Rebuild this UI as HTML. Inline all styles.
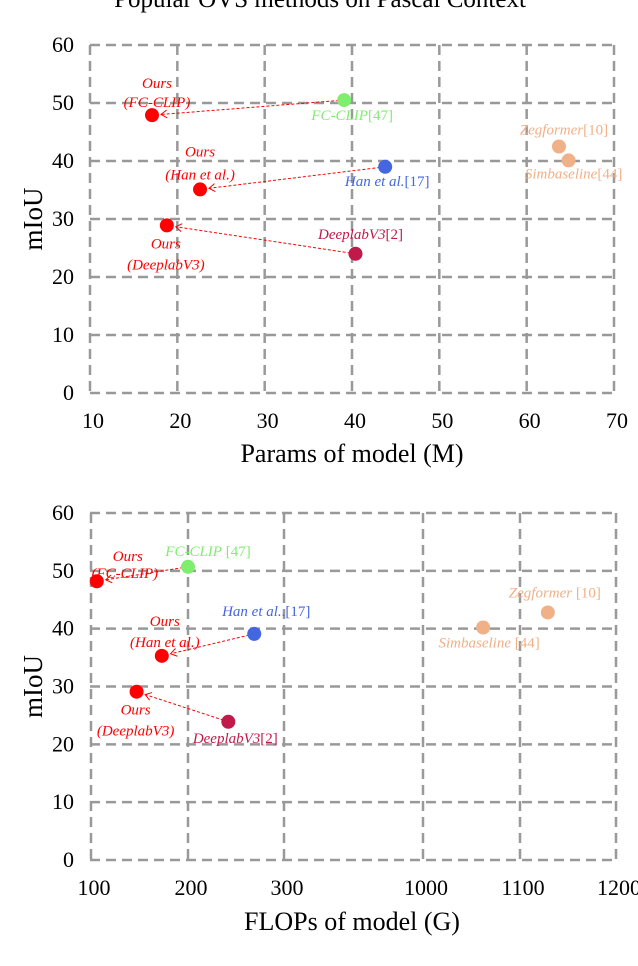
<!DOCTYPE html>
<html><head><meta charset="utf-8"><style>
html,body{margin:0;padding:0;background:#fff;width:638px;height:966px;overflow:hidden}
svg{display:block;font-family:"Liberation Serif",serif}
</style></head><body>
<svg id="svg" width="638" height="966" viewBox="0 0 638 966">
<text x="320" y="7" font-size="25" text-anchor="middle">Popular OVS methods on Pascal Context</text>
<g id="g1"></g>
<g id="g2"></g>
</svg>
<script>
const methods = ["Ours (FC-CLIP)","FC-CLIP","Ours (Han et al.)","Han et al.","Ours (DeeplabV3)","DeeplabV3","Zegformer","Simbaseline"];
const paramsM = [17.1,39.1,22.6,43.8,18.8,40.4,63.7,64.8];
const miouTop = [47.9,50.5,35.1,39.0,28.9,24.0,42.5,40.1];
const flopsG = [106,200,173,269,147,242,1129,1062];
const miouBottom = [48.2,50.7,35.3,39.1,29.1,23.9,42.8,40.2];
const yTicks = [0,10,20,30,40,50,60];
const xTicksTop = [10,20,30,40,50,60,70];
const xTicksBottom = [100,200,300,1000,1100,1200];
const colors = ["#ff0000","#7fee6f","#ff0000","#4466e0","#ff0000","#c0194a","#f0b088","#f0b088"];
const NS="http://www.w3.org/2000/svg";
function mk(p,tag,attrs){const e=document.createElementNS(NS,tag);for(const k in attrs)e.setAttribute(k,attrs[k]);p.appendChild(e);return e;}

function drawChart(g, xs, ys, xTicks, xScale, y0, y60, labelSet, xTitle, titleY){
  const L=90,R=614;
  const yScale=v=>y0-(v/60)*(y0-y60);
  yTicks.forEach(t=>{
    const l=mk(g,'line',{x1:L,x2:R,y1:yScale(t),y2:yScale(t),stroke:'#999','stroke-width':2.5,'stroke-dasharray':'10,6'});
     
    const tx=mk(g,'text',{x:74,y:yScale(t)+7,'font-size':22,'text-anchor':'end'});
    tx.textContent=t;
     
  });
  xTicks.forEach((t,i)=>{
    const x=xScale(t,i);
    const l=mk(g,'line',{x1:x,x2:x,y1:y60,y2:y0,stroke:'#999','stroke-width':2.5,'stroke-dasharray':'10,6'});
     
    const tx=mk(g,'text',{x:x+3,y:y0+35,'font-size':22,'text-anchor':'middle'});
    tx.textContent=t;
     
  });
  const xt=mk(g,'text',{x:352,y:titleY,'font-size':26,'text-anchor':'middle'});
  xt.textContent=xTitle;
   
  const cy=(y0+y60)/2;
  const yt=mk(g,'text',{x:0,y:0,'font-size':27,'text-anchor':'middle',transform:`translate(42,${cy}) rotate(-90)`});
  yt.textContent='mIoU';
   
  for(let i=0;i<xs.length-2;i+=2){
    const x1=xScale(xs[i+1]),y1=yScale(ys[i+1]),x2=xScale(xs[i]),y2=yScale(ys[i]);
    const dx=x2-x1,dy=y2-y1,len=Math.hypot(dx,dy),ux=dx/len,uy=dy/len;
    const ex=x2-ux*9,ey=y2-uy*9;
    const a=mk(g,'line',{x1:x1,y1:y1,x2:ex,y2:ey,stroke:'#ff0000','stroke-width':1,'stroke-dasharray':'3,2'});
     
    const h=mk(g,'polyline',{points:`${ex-ux*6-uy*4},${ey-uy*6+ux*4} ${ex},${ey} ${ex-ux*6+uy*4},${ey-uy*6-ux*4}`,fill:'none',stroke:'#ff0000','stroke-width':1});
     
  }
  xs.forEach((v,i)=>{
    const c=mk(g,'circle',{cx:xScale(v),cy:yScale(ys[i]),r:7,fill:colors[i]});
    
    
  });
  labelSet.forEach(lb=>{
    const i=lb[0];
    const t=mk(g,'text',{x:xScale(xs[i])+lb[1],y:yScale(ys[i])+lb[2],'font-size':15,'text-anchor':'middle',fill:colors[i]});
     
    lb[3].forEach((part,k)=>{const s=mk(t,'tspan',{'font-style':part[1]?'italic':'normal'});s.textContent=part[0];});
  });
}
const topX=(v)=>90+(v-10)*(524/60);
drawChart(document.getElementById('g1'),paramsM,miouTop,xTicksTop,topX,393,45,[
 [0,5,-27,[["Ours",1]]],[0,5,-8,[["(FC-CLIP)",1]]],
 [1,8,20,[["FC-CLIP",1],["[47]",0]]],
 [2,0,-33,[["Ours",1]]],[2,0,-10,[["(Han et al.)",1]]],
 [3,2,19,[["Han ",1],["et al.",1],["[17]",0]]],
 [4,-1,23,[["Ours",1]]],[4,-1,44,[["(DeeplabV3)",1]]],
 [5,5,-15,[["DeeplabV3",1],["[2]",0]]],
 [6,5,-12,[["Zegformer",1],["[10]",0]]],
 [7,5,18,[["Simbaseline",1],["[44]",0]]]
],"Params of model (M)",462);
const bPos=[91,188,284,423,520,616];
const botX=(v)=>{for(let k=0;k<xTicksBottom.length-1;k++){if(v<=xTicksBottom[k+1]||k===xTicksBottom.length-2){const a=xTicksBottom[k],b=xTicksBottom[k+1];return bPos[k]+(v-a)/(b-a)*(bPos[k+1]-bPos[k]);}}};
drawChart(document.getElementById('g2'),flopsG,miouBottom,xTicksBottom,botX,860,513,[
 [0,31,-20,[["Ours",1]]],[0,28,-3,[["(FC-CLIP)",1]]],
 [1,20,-11,[["FC-CLIP",1],[" [47]",0]]],
 [2,3,-30,[["Ours",1]]],[2,3,-9,[["(Han et al.)",1]]],
 [3,12,-18,[["Han ",1],["et al.",1],[".[17]",0]]],
 [4,-1,23,[["Ours",1]]],[4,-1,44,[["(DeeplabV3)",1]]],
 [5,7,21,[["DeeplabV3",1],["[2]",0]]],
 [6,7,-15,[["Zegformer",1],[" [10]",0]]],
 [7,6,20,[["Simbaseline",1],[" [44]",0]]]
],"FLOPs of model (G)",930);
</script>
</body></html>
